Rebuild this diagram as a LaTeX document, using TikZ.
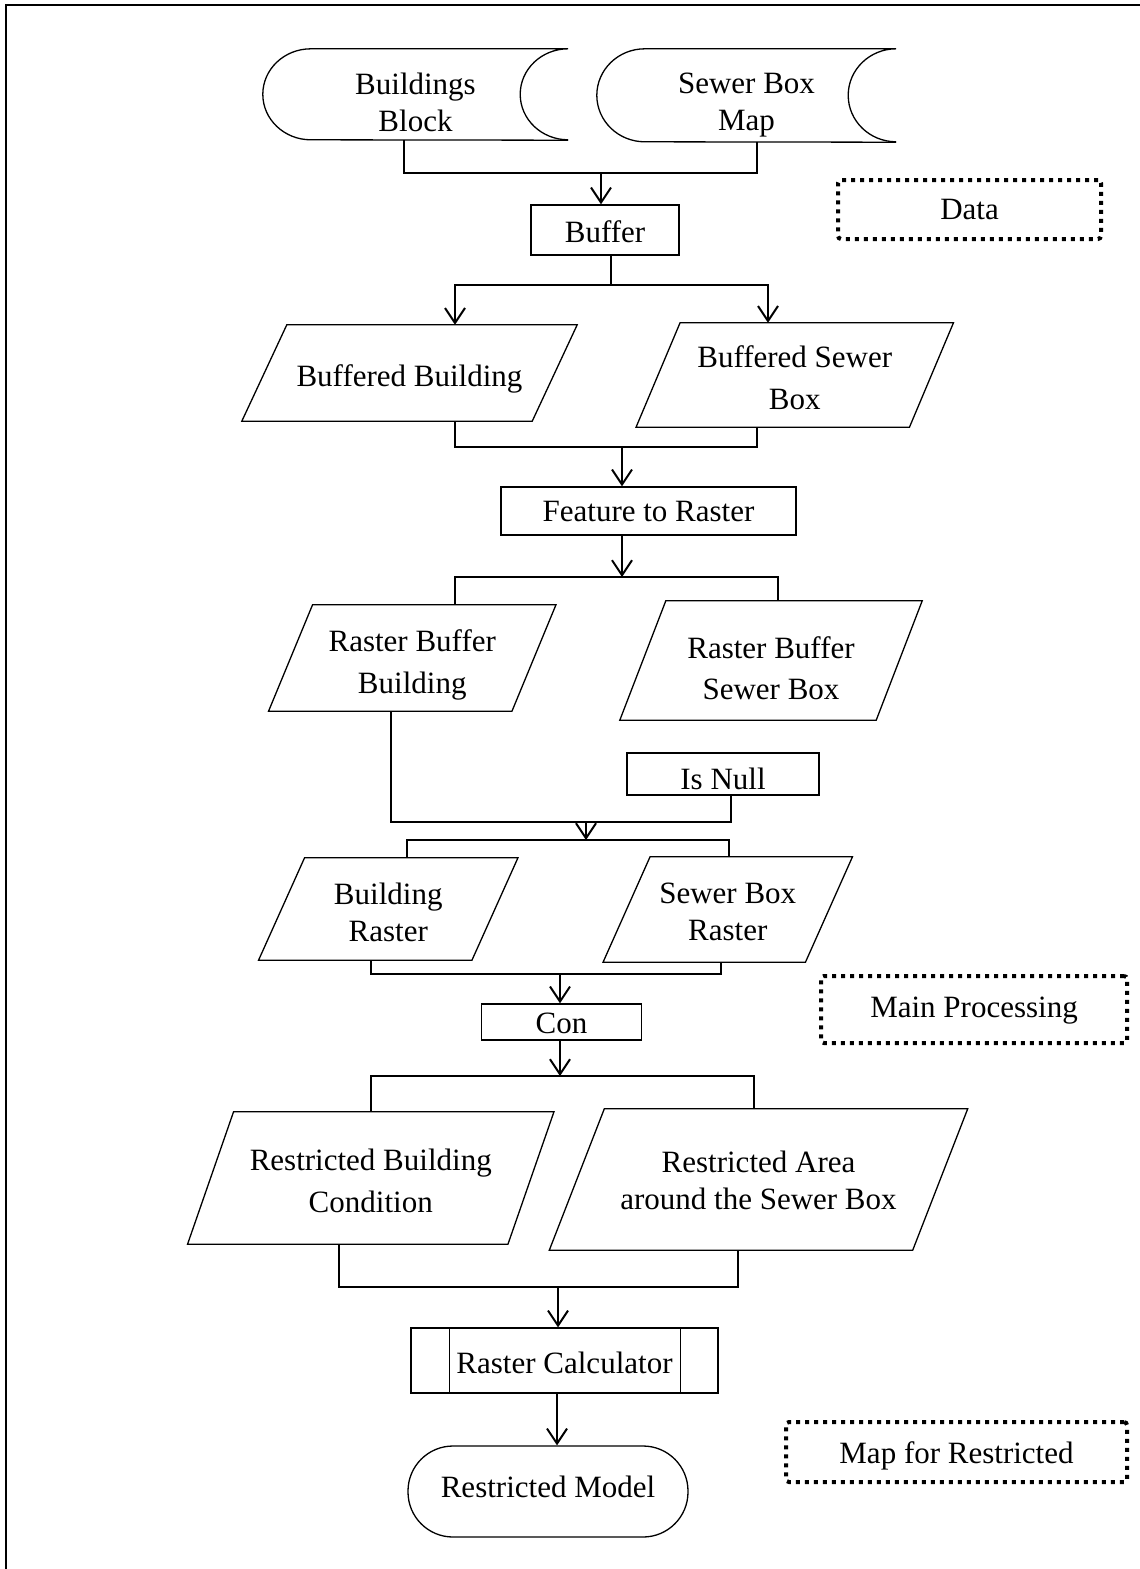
\documentclass[tikz,border=0pt]{standalone}
\usepackage{fontspec}
\setmainfont{Liberation Serif}
\usetikzlibrary{arrows.meta}
\begin{document}
\begin{tikzpicture}[x=1pt,y=-1pt,
  every node/.style={font=\fontsize{31}{37}\selectfont, align=center, inner sep=0pt},
  outline/.style={line width=1.3pt},
  proc/.style={draw, outline},
  note/.style={draw, line width=4pt, dash pattern=on 4pt off 5pt, rounded corners=3pt},
  link/.style={line width=2pt},
  joint/.style={line width=1.4pt},
  arr/.style={link, -{Straight Barb[length=15pt,width=20pt]}},
]
\useasboundingbox (0,0) rectangle (1140,1569);
% page frame
\draw[line width=2pt] (6,1569) -- (6,5) -- (1140,5);

% stored data inputs
\node[minimum width=305pt, minimum height=91pt,
  label={[yshift=-8pt]center:{Buildings\\Block}}] (bb) at (415.5,94.5) {};
\node[minimum width=299pt, minimum height=93pt,
  label={[yshift=-10pt]center:{Sewer Box\\Map}}] (sb) at (746.5,95.5) {};
\foreach \n/\r in {bb/45.5pt, sb/46.5pt}{
  \draw[outline] ([xshift=48pt]\n.north west) -- (\n.north east)
    arc[start angle=90, end angle=270, x radius=48pt, y radius=\r];
  \draw[outline] ([xshift=48pt]\n.north west)
    arc[start angle=90, end angle=270, x radius=48pt, y radius=\r] -- (\n.south east);
}

% processes and data sets
\node[proc, minimum width=148pt, minimum height=50pt,
  label={[yshift=-2pt]center:Buffer}] (buf) at (605,230) {};
\node[minimum width=290pt, minimum height=96pt,
  label={[yshift=-6pt]center:Buffered Building}] (bbuf) at (409.5,373) {};
\node[minimum width=273pt, minimum height=104pt,
  label={[yshift=-3pt]center:{Buffered Sewer\\[5pt]Box}}] (sbuf) at (794.75,375) {};
\node[proc, minimum width=295pt, minimum height=48pt,
  label={center:Feature to Raster}] (ftr) at (648.5,511) {};
\node[minimum width=243pt, minimum height=106pt,
  label={[yshift=-7pt]center:{Raster Buffer\\[5pt]Building}}] (rbb) at (412.25,658) {};
\node[minimum width=256pt, minimum height=119pt,
  label={[yshift=-8pt]center:{Raster Buffer\\[4pt]Sewer Box}}] (rbs) at (771,660.5) {};
\node[proc, minimum width=192pt, minimum height=42pt,
  label={[yshift=-5pt]center:Is Null}] (isnull) at (723,774) {};
\node[minimum width=213pt, minimum height=102pt,
  label={[yshift=-3pt]center:{Building\\Raster}}] (br) at (388.25,909) {};
\node[minimum width=202pt, minimum height=105pt,
  label={[yshift=-2pt]center:{Sewer Box\\Raster}}] (sr) at (727.75,909.5) {};
\node[proc, minimum width=160pt, minimum height=36pt,
  label={[yshift=-1pt]center:Con}] (con) at (561.5,1022) {};
\node[minimum width=320pt, minimum height=132pt,
  label={[yshift=-3pt]center:{Restricted Building\\[5pt]Condition}}] (rbc) at (370.75,1178) {};
\node[minimum width=363pt, minimum height=141pt,
  label={[yshift=-1pt]center:{Restricted Area\\around the Sewer Box}}] (ra) at (758.5,1179.5) {};
\node[proc, minimum width=307pt, minimum height=65pt,
  label={[yshift=-2pt]center:Raster Calculator}] (rc) at (564.5,1360.5) {};
\draw[outline] ([xshift=39pt]rc.north west) -- ([xshift=39pt]rc.south west)
  ([xshift=-38pt]rc.north east) -- ([xshift=-38pt]rc.south east);
\node[draw, outline, rounded corners=45pt, minimum width=280pt, minimum height=91pt,
  label={[yshift=5pt]center:Restricted Model}] (rm) at (548,1491.5) {};

% parallelogram outlines for the data sets
\foreach \n/\h in {bbuf/22.5pt, sbuf/22pt, rbb/22pt, rbs/23pt, br/23pt, sr/23.5pt, rbc/23pt, ra/27.5pt}
  \draw[outline] ([xshift=-\h]\n.south west) -- ([xshift=\h]\n.north west)
    -- ([xshift=\h]\n.north east) -- ([xshift=-\h]\n.south east) -- cycle;

% group labels
\node[note, minimum width=263pt, minimum height=59pt] (nd) at (969.5,209.5) {Data};
\node[note, minimum width=306pt, minimum height=67pt,
  label={[yshift=-1pt]center:Main Processing}] (nmp) at (974,1009.5) {};
\node[note, minimum width=341pt, minimum height=60pt,
  label={[yshift=-4pt]center:Map for Restricted}] (nmr) at (956.5,1452) {};

% connectors
\coordinate (j1) at (601,173);
\draw[link] ([xshift=-11.5pt]bb.south) |- (j1) -| ([xshift=10.5pt]sb.south);
\draw[arr] (j1) -- (j1 |- buf.north);
\coordinate (j2) at (611,285);
\draw[link] ([xshift=6pt]buf.south) -- (j2);
\draw[arr] (j2) -| ([xshift=45.5pt]bbuf.north);
\draw[arr] (j2) -| ([xshift=-26.75pt]sbuf.north);
\coordinate (j3) at (622,447);
\draw[joint] ([xshift=45.5pt]bbuf.south) |- (j3) -| ([xshift=-37.75pt]sbuf.south);
\draw[arr] (j3) -- (j3 |- ftr.north);
\coordinate (j4) at (622,577);
\draw[arr] (j4 |- ftr.south) -- (j4);
\draw[joint] ([xshift=42.75pt]rbb.north) |- (j4) -| ([xshift=7pt]rbs.north);
\coordinate (j5) at (586,822);
\draw[link] ([xshift=-21.25pt]rbb.south) |- (j5) -| ([xshift=8pt]isnull.south);
\coordinate (j6) at (586,840);
\draw[arr] (j5) -- (j6);
\draw[joint] ([xshift=18.75pt]br.north) |- (j6) -| ([xshift=1.25pt]sr.north);
\coordinate (j7) at (560,974);
\draw[joint] ([xshift=-17.25pt]br.south) |- (j7) -| ([xshift=-6.75pt]sr.south);
\draw[arr] (j7) -- (j7 |- con.north);
\coordinate (j8) at (560,1076);
\draw[arr] (j8 |- con.south) -- (j8);
\draw[joint] ([xshift=0.25pt]rbc.north) |- (j8) -| ([xshift=-4.5pt]ra.north);
\coordinate (j9) at (558,1287);
\draw[joint] ([xshift=-31.75pt]rbc.south) |- (j9) -| ([xshift=-20.5pt]ra.south);
\draw[arr] (j9) -- (j9 |- rc.north);
\draw[arr] ([xshift=-7.5pt]rc.south) -- ([xshift=9pt]rm.north);
\end{tikzpicture}
\end{document}
